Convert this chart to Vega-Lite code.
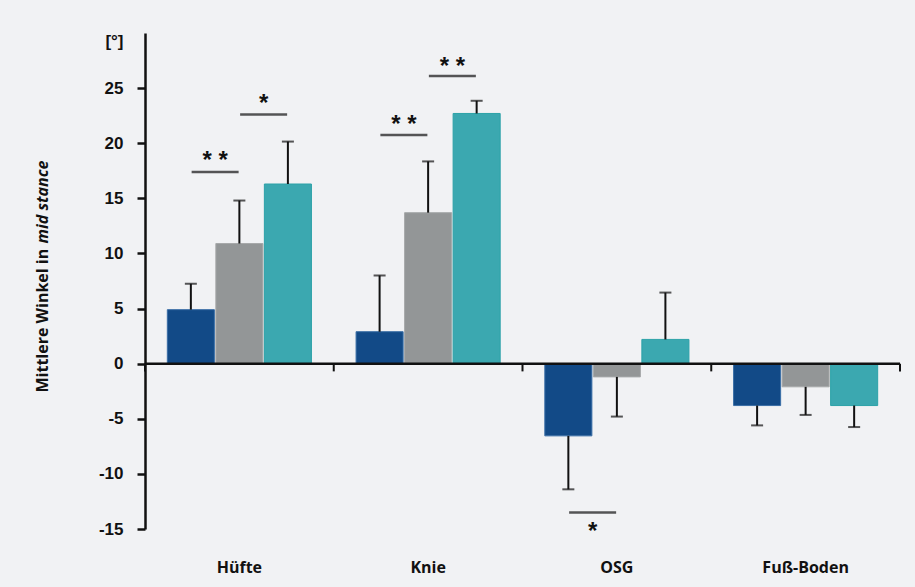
{
  "$schema": "https://vega.github.io/schema/vega-lite/v6.json",
  "width": 755,
  "height": 496,
  "autosize": {"type": "none"},
  "padding": {"left": 145, "top": 33, "right": 15, "bottom": 58},
  "background": "#f1f2f4",
  "config": {"view": {"stroke": null}},
  "datasets": {
    "bars": [
      {"gelenk": "Hüfte", "gruppe": "Gruppe 1", "mw": 4.9, "sd": 7.25},
      {"gelenk": "Hüfte", "gruppe": "Gruppe 2", "mw": 10.9, "sd": 14.8},
      {"gelenk": "Hüfte", "gruppe": "Gruppe 3", "mw": 16.3, "sd": 20.15},
      {"gelenk": "Knie", "gruppe": "Gruppe 1", "mw": 2.9, "sd": 8.0},
      {"gelenk": "Knie", "gruppe": "Gruppe 2", "mw": 13.7, "sd": 18.35},
      {"gelenk": "Knie", "gruppe": "Gruppe 3", "mw": 22.7, "sd": 23.85},
      {"gelenk": "OSG", "gruppe": "Gruppe 1", "mw": -6.55, "sd": -11.4},
      {"gelenk": "OSG", "gruppe": "Gruppe 2", "mw": -1.2, "sd": -4.8},
      {"gelenk": "OSG", "gruppe": "Gruppe 3", "mw": 2.2, "sd": 6.45},
      {"gelenk": "Fuß-Boden", "gruppe": "Gruppe 1", "mw": -3.8, "sd": -5.6},
      {"gelenk": "Fuß-Boden", "gruppe": "Gruppe 2", "mw": -2.1, "sd": -4.65},
      {"gelenk": "Fuß-Boden", "gruppe": "Gruppe 3", "mw": -3.8, "sd": -5.75}
    ],
    "sig": [
      {"gelenk": "Hüfte", "vergleich": "Gruppe 1–2", "linie": 17.4, "stern": 18.8, "text": "* *"},
      {"gelenk": "Hüfte", "vergleich": "Gruppe 2–3", "linie": 22.6, "stern": 24.0, "text": "*"},
      {"gelenk": "Knie", "vergleich": "Gruppe 1–2", "linie": 20.75, "stern": 22.1, "text": "* *"},
      {"gelenk": "Knie", "vergleich": "Gruppe 2–3", "linie": 26.1, "stern": 27.4, "text": "* *"},
      {"gelenk": "OSG", "vergleich": "Gruppe 1–2", "linie": -13.5, "stern": -14.8, "text": "*"}
    ],
    "gelenke": [
      {"gelenk": "Hüfte"},
      {"gelenk": "Knie"},
      {"gelenk": "OSG"},
      {"gelenk": "Fuß-Boden"}
    ]
  },
  "encoding": {
    "x": {
      "field": "gelenk",
      "type": "nominal",
      "sort": ["Hüfte", "Knie", "OSG", "Fuß-Boden"],
      "scale": {"domain": ["Hüfte", "Knie", "OSG", "Fuß-Boden"], "paddingInner": 0, "paddingOuter": 0},
      "axis": {
        "title": null,
        "orient": "bottom",
        "domain": false,
        "ticks": false,
        "tickSize": 0,
        "labelAngle": 0,
        "labelPadding": 30,
        "labelFont": "Open Sans",
        "labelFontWeight": "bold",
        "labelFontSize": 16,
        "labelColor": "#111111"
      }
    }
  },
  "resolve": {"scale": {"xOffset": "independent"}, "axis": {"y": "independent"}},
  "layer": [
    {
      "data": {"name": "bars"},
      "encoding": {
        "xOffset": {
          "field": "gruppe",
          "type": "nominal",
          "scale": {"domain": ["Gruppe 1", "Gruppe 2", "Gruppe 3"], "paddingInner": 0.03, "paddingOuter": 0.46}
        }
      },
      "layer": [
        {
          "mark": {"type": "bar", "strokeWidth": 1},
          "encoding": {
            "y": {
              "field": "mw",
              "type": "quantitative",
              "scale": {"domain": [-15, 30], "nice": false, "zero": true},
              "axis": {
                "orient": "left",
                "title": "Mittlere Winkel in",
                "titleFont": "Open Sans",
                "titleFontWeight": "bold",
                "titleFontSize": 16,
                "titleColor": "#111111",
                "titleAngle": -90,
                "titleAlign": "left",
                "titleBaseline": "alphabetic",
                "titleX": -98,
                "titleY": 359,
                "values": [-15, -10, -5, 0, 5, 10, 15, 20, 25, 29.2],
                "labelExpr": "datum.value > 26 ? '[°]' : '' + datum.value",
                "grid": false,
                "domainColor": "#111111",
                "domainWidth": 2.5,
                "tickColor": "#111111",
                "tickWidth": 2.5,
                "tickSize": 8,
                "tickOpacity": {"condition": {"test": "datum.value > 26", "value": 0}, "value": 1},
                "labelPadding": 14,
                "labelFont": "Liberation Sans",
                "labelFontWeight": "bold",
                "labelFontSize": 17,
                "labelColor": "#111111"
              }
            },
            "color": {
              "field": "gruppe",
              "type": "nominal",
              "scale": {"domain": ["Gruppe 1", "Gruppe 2", "Gruppe 3"], "range": ["#124a87", "#939697", "#3ba8b0"]},
              "legend": null
            },
            "stroke": {
              "field": "gruppe",
              "type": "nominal",
              "scale": {"domain": ["Gruppe 1", "Gruppe 2", "Gruppe 3"], "range": ["#3a6ea6", "#a7a9aa", "#2ca2a8"]},
              "legend": null
            }
          }
        },
        {
          "mark": {"type": "rule", "color": "#111111", "strokeWidth": 2},
          "encoding": {
            "y": {"field": "mw", "type": "quantitative"},
            "y2": {"field": "sd"}
          }
        },
        {
          "mark": {"type": "tick", "color": "#111111", "thickness": 2, "size": 12, "orient": "horizontal"},
          "encoding": {
            "y": {"field": "sd", "type": "quantitative"}
          }
        }
      ]
    },
    {
      "data": {"values": [{}]},
      "mark": {"type": "rule", "color": "#111111", "strokeWidth": 2.5},
      "encoding": {
        "x": null,
        "y": {
          "datum": 0,
          "type": "quantitative",
          "axis": {
            "orient": "left",
            "title": "mid stance",
            "titleFont": "Open Sans",
            "titleFontWeight": "bold",
            "titleFontStyle": "italic",
            "titleFontSize": 16,
            "titleColor": "#111111",
            "titleAngle": -90,
            "titleAlign": "left",
            "titleBaseline": "alphabetic",
            "titleX": -98,
            "titleY": 210,
            "domain": false,
            "ticks": false,
            "labels": false,
            "grid": false
          }
        }
      }
    },
    {
      "data": {"name": "gelenke"},
      "mark": {"type": "rule", "color": "#111111", "strokeWidth": 2},
      "encoding": {
        "x": {"field": "gelenk", "type": "nominal", "bandPosition": 0},
        "y": {"datum": 0, "type": "quantitative", "axis": null},
        "y2": {"datum": -0.7}
      }
    },
    {
      "data": {"name": "gelenke"},
      "transform": [{"filter": "datum.gelenk === 'Fuß-Boden'"}],
      "mark": {"type": "rule", "color": "#111111", "strokeWidth": 2},
      "encoding": {
        "x": {"field": "gelenk", "type": "nominal", "bandPosition": 1},
        "y": {"datum": 0, "type": "quantitative", "axis": null},
        "y2": {"datum": -0.7}
      }
    },
    {
      "data": {"name": "sig"},
      "encoding": {
        "xOffset": {
          "field": "vergleich",
          "type": "nominal",
          "scale": {"domain": ["Gruppe 1–2", "Gruppe 2–3"], "paddingInner": 0, "paddingOuter": 0.946}
        }
      },
      "layer": [
        {
          "mark": {"type": "tick", "color": "#111111", "thickness": 2.5, "size": 47, "orient": "horizontal"},
          "encoding": {
            "y": {"field": "linie", "type": "quantitative", "axis": null}
          }
        },
        {
          "mark": {"type": "text", "font": "Liberation Sans", "fontWeight": "bold", "fontSize": 24, "baseline": "middle", "align": "center", "dy": 5, "color": "#111111"},
          "encoding": {
            "y": {"field": "stern", "type": "quantitative", "axis": null},
            "text": {"field": "text"}
          }
        }
      ]
    }
  ]
}
